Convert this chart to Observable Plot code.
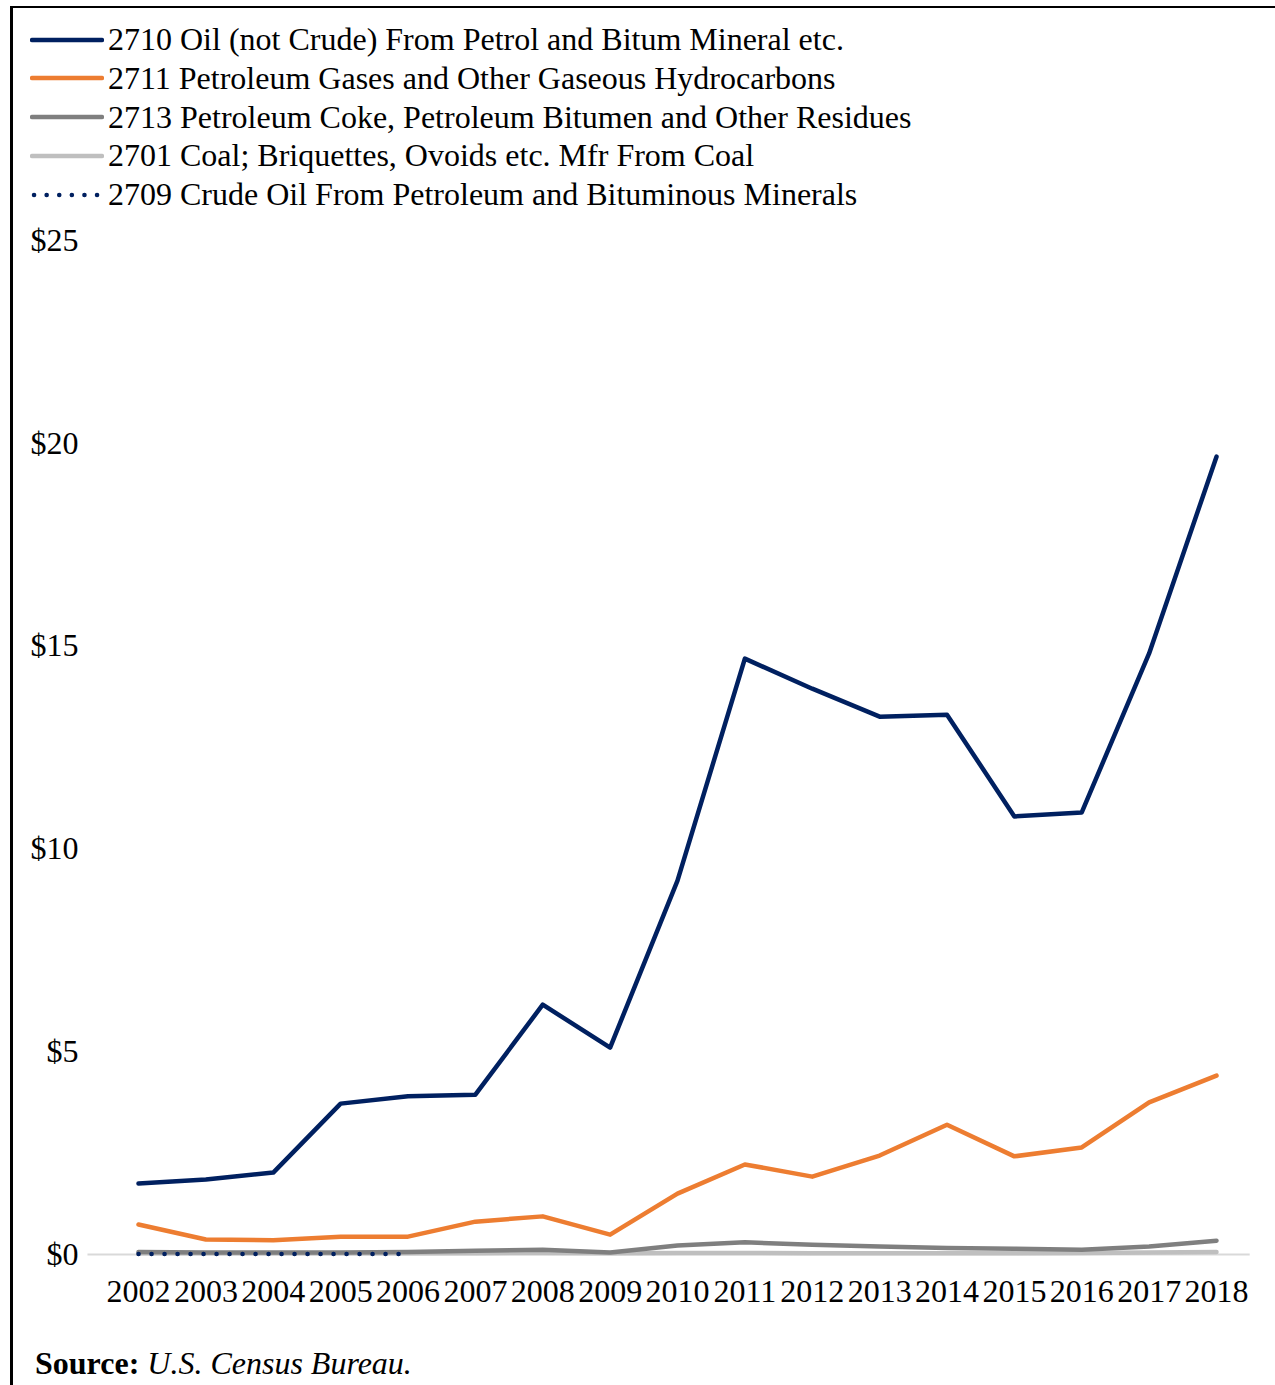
<!DOCTYPE html>
<html>
<head>
<meta charset="utf-8">
<script src="https://cdn.jsdelivr.net/npm/d3@7"></script>
<script src="https://cdn.jsdelivr.net/npm/@observablehq/plot@0.6"></script>
<style>
  html, body { margin: 0; padding: 0; background: #fff; }
  body { width: 1275px; height: 1385px; position: relative; overflow: hidden; font-family: "Liberation Serif", "Times New Roman", serif; color: #000; }
  #frame { position: absolute; left: 10px; top: 6px; width: 1275px; height: 1400px; border-top: 2px solid #000; border-left: 3px solid #000; box-sizing: border-box; }
  #legend { position: absolute; left: 30px; top: 20px; }
  .item { position: absolute; left: 0; height: 39px; white-space: nowrap; font-size: 32px; display: flex; align-items: center; }
  .item svg { margin-right: 4px; }
  #chart { position: absolute; left: 0; top: 220px; }
  #source { position: absolute; left: 35px; top: 1345px; font-size: 32px; white-space: nowrap; }
</style>
</head>
<body>
<div id="frame"></div>
<div id="legend"></div>
<div id="chart"></div>
<div id="source"><b>Source:</b> <i>U.S. Census Bureau.</i></div>
<script>
const years = [2002,2003,2004,2005,2006,2007,2008,2009,2010,2011,2012,2013,2014,2015,2016,2017,2018];
const oil2710 = [1.75,1.85,2.02,3.72,3.90,3.94,6.16,5.10,9.22,14.69,13.95,13.26,13.31,10.80,10.90,14.82,19.67];
const gas2711 = [0.74,0.37,0.35,0.44,0.44,0.81,0.94,0.49,1.50,2.22,1.92,2.44,3.20,2.42,2.64,3.75,4.41];
const coke2713 = [0.06,0.05,0.05,0.05,0.06,0.09,0.12,0.05,0.22,0.30,0.24,0.20,0.16,0.14,0.12,0.20,0.34];
const coal2701 = [0.03,0.03,0.03,0.03,0.03,0.03,0.04,0.03,0.04,0.04,0.03,0.03,0.03,0.03,0.04,0.05,0.06];
const crudeYears = [2002,2003,2004,2005,2006];
const crude2709 = [0.01,0.01,0.01,0.01,0.01];
const seriesNames = [
  "2710 Oil (not Crude) From Petrol and Bitum Mineral etc.",
  "2711 Petroleum Gases and Other Gaseous Hydrocarbons",
  "2713 Petroleum Coke, Petroleum Bitumen and Other Residues",
  "2701 Coal; Briquettes, Ovoids etc. Mfr From Coal",
  "2709 Crude Oil From Petroleum and Bituminous Minerals"
];
const seriesColors = ["#002060", "#ED7D31", "#7F7F7F", "#BFBFBF", "#002060"];
const yTicks = [0,5,10,15,20,25];

const toRows = (xs, vs) => xs.map((x, i) => ({year: x, value: vs[i]}));

// legend
const legend = document.getElementById("legend");
seriesNames.forEach((name, i) => {
  const div = document.createElement("div");
  div.className = "item";
  div.style.top = (i * 38.8) + "px";
  const dotted = i === 4;
  div.innerHTML = `<svg width="74" height="10"><line x1="${dotted ? 4 : 2}" y1="5" x2="${dotted ? 70 : 72}" y2="5" stroke="${seriesColors[i]}" stroke-width="4.5" stroke-linecap="round" ${dotted ? 'stroke-dasharray="0.1 12.5"' : ''}/></svg><span>${name}</span>`;
  legend.appendChild(div);
});

const chart = Plot.plot({
  width: 1275,
  height: 1114,
  marginTop: 20,
  marginBottom: 80,
  marginLeft: 138,
  marginRight: 59,
  style: {fontFamily: "'Liberation Serif', 'Times New Roman', serif", fontSize: "32px", color: "#000", background: "transparent"},
  x: {domain: [2002, 2018], ticks: years, tickFormat: d => String(d), tickSize: 0, tickPadding: 25, label: null},
  y: {domain: [0, 25], ticks: yTicks, tickFormat: d => "$" + d, tickSize: 0, tickPadding: 60, label: null},
  marks: [
    Plot.ruleY([0], {x1: 2001.25, x2: 2018.5, stroke: "#D9D9D9", strokeWidth: 2}),
    Plot.line(toRows(years, coal2701), {x: "year", y: "value", stroke: seriesColors[3], strokeWidth: 4.5, strokeLinejoin: "round", strokeLinecap: "round"}),
    Plot.line(toRows(years, coke2713), {x: "year", y: "value", stroke: seriesColors[2], strokeWidth: 4.5, strokeLinejoin: "round", strokeLinecap: "round"}),
    Plot.line(toRows(years, gas2711), {x: "year", y: "value", stroke: seriesColors[1], strokeWidth: 4.5, strokeLinejoin: "round", strokeLinecap: "round"}),
    Plot.line(toRows(years, oil2710), {x: "year", y: "value", stroke: seriesColors[0], strokeWidth: 4.5, strokeLinejoin: "round", strokeLinecap: "round"}),
    Plot.line(toRows(crudeYears, crude2709), {x: "year", y: "value", stroke: seriesColors[4], strokeWidth: 4.5, strokeLinecap: "round", strokeDasharray: "0.1 12.9"})
  ]
});
document.getElementById("chart").appendChild(chart);
</script>
</body>
</html>
